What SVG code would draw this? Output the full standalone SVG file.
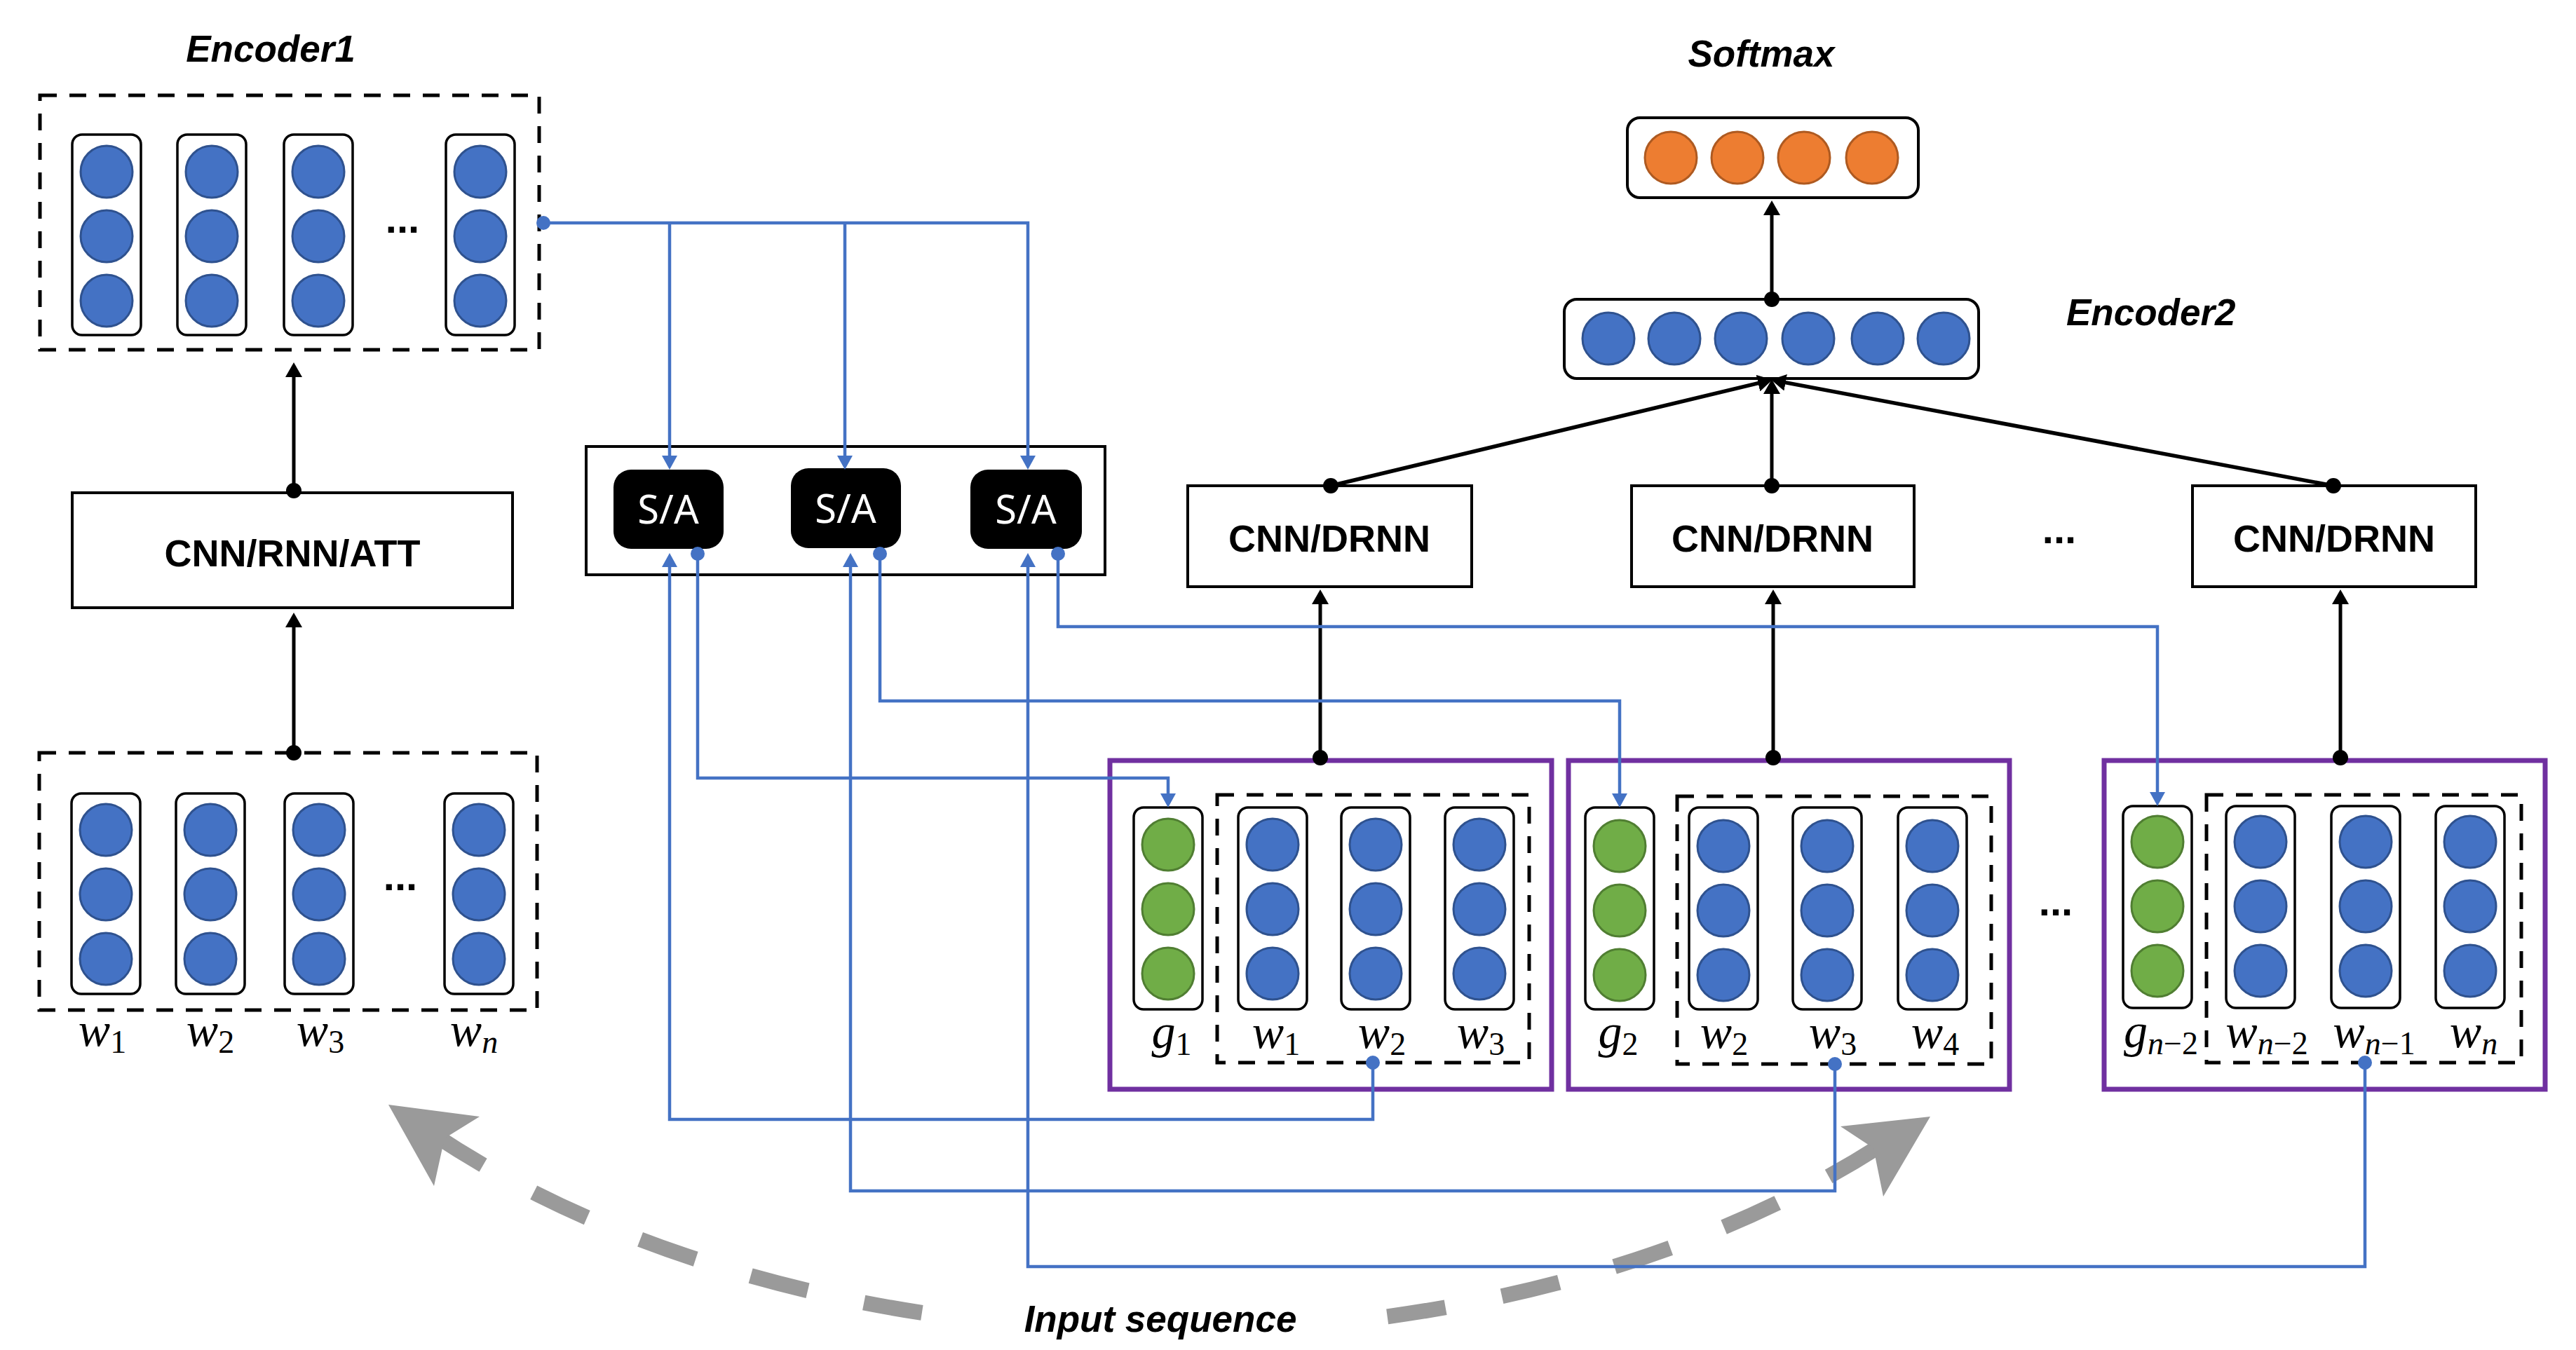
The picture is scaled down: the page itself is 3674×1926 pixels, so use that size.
<svg xmlns="http://www.w3.org/2000/svg" width="3674" height="1926" viewBox="0 0 3674 1926">
<defs>
<style>
.col{fill:#fff;stroke:#000;stroke-width:3.5}
.bc{fill:#4472C4;stroke:#2F528F;stroke-width:3}
.gc{fill:#70AD47;stroke:#507E32;stroke-width:3}
.oc{fill:#ED7D31;stroke:#AE5A21;stroke-width:3}
.dash{fill:none;stroke:#000;stroke-width:5;stroke-dasharray:24 18}
.box{fill:#fff;stroke:#000;stroke-width:4}
.purple{fill:#fff;stroke:#7030A0;stroke-width:7}
.title{font-family:"Liberation Sans",Arial,sans-serif;font-weight:bold;font-style:italic;font-size:53px;fill:#000}
.lbl{font-family:"Liberation Sans",Arial,sans-serif;font-weight:bold;font-size:54px;text-anchor:middle;fill:#000}
.sa{font-family:"Noto Sans","Liberation Sans",sans-serif;font-size:56px;text-anchor:middle;fill:#fff}
.math{font-family:"Liberation Serif","DejaVu Serif",serif;font-size:68px;text-anchor:middle;fill:#000}
.it{font-style:italic}
.sub{font-size:46px}
.dots{font-family:"Liberation Sans",Arial,sans-serif;font-weight:bold;font-size:58px;text-anchor:middle;fill:#000}
.blue{fill:none;stroke:#4472C4;stroke-width:4.5}
.blk{fill:none;stroke:#000;stroke-width:5}
.blk5{fill:none;stroke:#000;stroke-width:5.5}
.gray{fill:none;stroke:#9A9A9A;stroke-width:22}
</style>
<marker id="ak" markerUnits="userSpaceOnUse" markerWidth="24" markerHeight="24" refX="12" refY="12" orient="auto"><path d="M0,0 L21,12 L0,24 z" fill="#000"/></marker>
<marker id="ab" markerUnits="userSpaceOnUse" markerWidth="22" markerHeight="22" refX="12" refY="11" orient="auto"><path d="M0,0 L20,11 L0,22 z" fill="#4472C4"/></marker>
</defs>
<rect x="0" y="0" width="3674" height="1926" fill="#fff"/>

<g id="encoder1">
<text class="title" x="386" y="88" text-anchor="middle">Encoder1</text>
<rect class="dash" x="57" y="136" width="712" height="363"/>
<rect class="col" x="103" y="192" width="98" height="286" rx="14"/>
<rect class="col" x="253" y="192" width="98" height="286" rx="14"/>
<rect class="col" x="405" y="192" width="98" height="286" rx="14"/>
<rect class="col" x="636" y="192" width="98" height="286" rx="14"/>
<circle class="bc" cx="152" cy="245" r="37"/><circle class="bc" cx="152" cy="337" r="37"/><circle class="bc" cx="152" cy="429" r="37"/>
<circle class="bc" cx="302" cy="245" r="37"/><circle class="bc" cx="302" cy="337" r="37"/><circle class="bc" cx="302" cy="429" r="37"/>
<circle class="bc" cx="454" cy="245" r="37"/><circle class="bc" cx="454" cy="337" r="37"/><circle class="bc" cx="454" cy="429" r="37"/>
<circle class="bc" cx="685" cy="245" r="37"/><circle class="bc" cx="685" cy="337" r="37"/><circle class="bc" cx="685" cy="429" r="37"/>
<text class="dots" x="574" y="332">...</text>
</g>

<g id="cnn-rnn-att">
<rect class="box" x="103" y="703" width="628" height="164"/>
<text class="lbl" x="417" y="808">CNN/RNN/ATT</text>
</g>

<g id="input-words">
<rect class="dash" x="56" y="1074" width="710" height="367"/>
<rect class="col" x="102" y="1132" width="98" height="286" rx="14"/>
<rect class="col" x="251" y="1132" width="98" height="286" rx="14"/>
<rect class="col" x="406" y="1132" width="98" height="286" rx="14"/>
<rect class="col" x="634" y="1132" width="98" height="286" rx="14"/>
<circle class="bc" cx="151" cy="1184" r="37"/><circle class="bc" cx="151" cy="1276" r="37"/><circle class="bc" cx="151" cy="1368" r="37"/>
<circle class="bc" cx="300" cy="1184" r="37"/><circle class="bc" cx="300" cy="1276" r="37"/><circle class="bc" cx="300" cy="1368" r="37"/>
<circle class="bc" cx="455" cy="1184" r="37"/><circle class="bc" cx="455" cy="1276" r="37"/><circle class="bc" cx="455" cy="1368" r="37"/>
<circle class="bc" cx="683" cy="1184" r="37"/><circle class="bc" cx="683" cy="1276" r="37"/><circle class="bc" cx="683" cy="1368" r="37"/>
<text class="dots" x="571" y="1270">...</text>
<text class="math" x="146" y="1492"><tspan class="it">w</tspan><tspan class="sub" dy="10">1</tspan></text>
<text class="math" x="300" y="1492"><tspan class="it">w</tspan><tspan class="sub" dy="10">2</tspan></text>
<text class="math" x="457" y="1492"><tspan class="it">w</tspan><tspan class="sub" dy="10">3</tspan></text>
<text class="math" x="676" y="1492"><tspan class="it">w</tspan><tspan class="sub it" dy="10">n</tspan></text>
</g>

<g id="sa-block">
<rect class="box" x="836" y="637" width="740" height="183"/>
<rect x="875" y="670" width="157" height="113" rx="25" fill="#000"/>
<rect x="1128" y="668" width="157" height="114" rx="25" fill="#000"/>
<rect x="1384" y="670" width="159" height="113" rx="25" fill="#000"/>
<text class="sa" x="953" y="747">S/A</text>
<text class="sa" x="1206" y="746">S/A</text>
<text class="sa" x="1463" y="747">S/A</text>
</g>

<g id="cnn-drnn-1">
<rect class="box" x="1694" y="693" width="405" height="144"/>
<text class="lbl" x="1896" y="787">CNN/DRNN</text>
</g>
<g id="cnn-drnn-2">
<rect class="box" x="2327" y="693" width="403" height="144"/>
<text class="lbl" x="2528" y="787">CNN/DRNN</text>
</g>
<text class="dots" x="2937" y="775">...</text>
<g id="cnn-drnn-3">
<rect class="box" x="3127" y="693" width="404" height="144"/>
<text class="lbl" x="3329" y="787">CNN/DRNN</text>
</g>

<g id="encoder2">
<rect class="box" x="2231" y="427" width="591" height="113" rx="18"/>
<circle class="bc" cx="2294" cy="483" r="37"/><circle class="bc" cx="2388" cy="483" r="37"/><circle class="bc" cx="2483" cy="483" r="37"/>
<circle class="bc" cx="2579" cy="483" r="37"/><circle class="bc" cx="2678" cy="483" r="37"/><circle class="bc" cx="2772" cy="483" r="37"/>
<text class="title" x="2947" y="464">Encoder2</text>
</g>

<g id="softmax">
<text class="title" x="2512" y="95" text-anchor="middle">Softmax</text>
<rect class="box" x="2321" y="168" width="415" height="114" rx="18"/>
<circle class="oc" cx="2383" cy="225" r="37"/><circle class="oc" cx="2478" cy="225" r="37"/>
<circle class="oc" cx="2573" cy="225" r="37"/><circle class="oc" cx="2670" cy="225" r="37"/>
</g>

<g id="window-1">
<rect class="purple" x="1583" y="1085" width="630" height="469"/>
<rect class="dash" x="1736" y="1134" width="445" height="382"/>
<rect class="col" x="1617" y="1152" width="98" height="288" rx="14"/>
<rect class="col" x="1766" y="1152" width="98" height="288" rx="14"/>
<rect class="col" x="1913" y="1152" width="98" height="288" rx="14"/>
<rect class="col" x="2061" y="1152" width="98" height="288" rx="14"/>
<circle class="gc" cx="1666" cy="1205" r="37"/><circle class="gc" cx="1666" cy="1297" r="37"/><circle class="gc" cx="1666" cy="1389" r="37"/>
<circle class="bc" cx="1815" cy="1205" r="37"/><circle class="bc" cx="1815" cy="1297" r="37"/><circle class="bc" cx="1815" cy="1389" r="37"/>
<circle class="bc" cx="1962" cy="1205" r="37"/><circle class="bc" cx="1962" cy="1297" r="37"/><circle class="bc" cx="1962" cy="1389" r="37"/>
<circle class="bc" cx="2110" cy="1205" r="37"/><circle class="bc" cx="2110" cy="1297" r="37"/><circle class="bc" cx="2110" cy="1389" r="37"/>
<text class="math" x="1671" y="1495"><tspan class="it">g</tspan><tspan class="sub" dy="10">1</tspan></text>
<text class="math" x="1820" y="1495"><tspan class="it">w</tspan><tspan class="sub" dy="10">1</tspan></text>
<text class="math" x="1971" y="1495"><tspan class="it">w</tspan><tspan class="sub" dy="10">2</tspan></text>
<text class="math" x="2112" y="1495"><tspan class="it">w</tspan><tspan class="sub" dy="10">3</tspan></text>
</g>

<g id="window-2">
<rect class="purple" x="2237" y="1085" width="629" height="469"/>
<rect class="dash" x="2392" y="1136" width="448" height="382"/>
<rect class="col" x="2261" y="1152" width="98" height="288" rx="14"/>
<rect class="col" x="2409" y="1152" width="98" height="288" rx="14"/>
<rect class="col" x="2557" y="1152" width="98" height="288" rx="14"/>
<rect class="col" x="2707" y="1152" width="98" height="288" rx="14"/>
<circle class="gc" cx="2310" cy="1207" r="37"/><circle class="gc" cx="2310" cy="1299" r="37"/><circle class="gc" cx="2310" cy="1391" r="37"/>
<circle class="bc" cx="2458" cy="1207" r="37"/><circle class="bc" cx="2458" cy="1299" r="37"/><circle class="bc" cx="2458" cy="1391" r="37"/>
<circle class="bc" cx="2606" cy="1207" r="37"/><circle class="bc" cx="2606" cy="1299" r="37"/><circle class="bc" cx="2606" cy="1391" r="37"/>
<circle class="bc" cx="2756" cy="1207" r="37"/><circle class="bc" cx="2756" cy="1299" r="37"/><circle class="bc" cx="2756" cy="1391" r="37"/>
<text class="math" x="2308" y="1495"><tspan class="it">g</tspan><tspan class="sub" dy="10">2</tspan></text>
<text class="math" x="2459" y="1495"><tspan class="it">w</tspan><tspan class="sub" dy="10">2</tspan></text>
<text class="math" x="2614" y="1495"><tspan class="it">w</tspan><tspan class="sub" dy="10">3</tspan></text>
<text class="math" x="2760" y="1495"><tspan class="it">w</tspan><tspan class="sub" dy="10">4</tspan></text>
</g>

<text class="dots" x="2932" y="1306">...</text>

<g id="window-3">
<rect class="purple" x="3001" y="1085" width="629" height="469"/>
<rect class="dash" x="3147" y="1134" width="449" height="382"/>
<rect class="col" x="3028" y="1150" width="98" height="288" rx="14"/>
<rect class="col" x="3175" y="1150" width="98" height="288" rx="14"/>
<rect class="col" x="3325" y="1150" width="98" height="288" rx="14"/>
<rect class="col" x="3474" y="1150" width="98" height="288" rx="14"/>
<circle class="gc" cx="3077" cy="1201" r="37"/><circle class="gc" cx="3077" cy="1293" r="37"/><circle class="gc" cx="3077" cy="1385" r="37"/>
<circle class="bc" cx="3224" cy="1201" r="37"/><circle class="bc" cx="3224" cy="1293" r="37"/><circle class="bc" cx="3224" cy="1385" r="37"/>
<circle class="bc" cx="3374" cy="1201" r="37"/><circle class="bc" cx="3374" cy="1293" r="37"/><circle class="bc" cx="3374" cy="1385" r="37"/>
<circle class="bc" cx="3523" cy="1201" r="37"/><circle class="bc" cx="3523" cy="1293" r="37"/><circle class="bc" cx="3523" cy="1385" r="37"/>
<text class="math" x="3082" y="1494"><tspan class="it">g</tspan><tspan class="sub" dy="10"><tspan class="it">n</tspan>−2</tspan></text>
<text class="math" x="3233" y="1494"><tspan class="it">w</tspan><tspan class="sub" dy="10"><tspan class="it">n</tspan>−2</tspan></text>
<text class="math" x="3386" y="1494"><tspan class="it">w</tspan><tspan class="sub" dy="10"><tspan class="it">n</tspan>−1</tspan></text>
<text class="math" x="3528" y="1494"><tspan class="it">w</tspan><tspan class="sub it" dy="10">n</tspan></text>
</g>

<g id="input-sequence">
<path class="gray" d="M612,1614 C890,1801.5 1269.25,1897 1649.4,1899.6" stroke-dasharray="84 82" stroke-dashoffset="159"/>
<path class="gray" d="M2692,1628 C2410.5,1812 2029.5,1902.25 1649.4,1899.6" stroke-dasharray="84 82" stroke-dashoffset="152"/>
<polygon points="554,1576 684,1593 634,1624 619,1692" fill="#9A9A9A"/>
<polygon points="2753,1593 2686,1707 2672,1638 2625,1607" fill="#9A9A9A"/>
<rect x="1385" y="1835" width="545" height="91" fill="#fff"/>
<text class="title" x="1655" y="1900" text-anchor="middle" font-size="56">Input sequence</text>
</g>

<g id="connectors">
<g class="blk">
<path d="M419,700 V526" marker-end="url(#ak)"/>
<path d="M419,1074 V883" marker-end="url(#ak)"/>
<path d="M1883,1082 V850" marker-end="url(#ak)"/>
<path d="M2529,1082 V850" marker-end="url(#ak)"/>
<path d="M3338,1082 V850" marker-end="url(#ak)"/>
<path d="M2527,427 V295" marker-end="url(#ak)"/>
<path d="M2527,693 V550" marker-end="url(#ak)"/>
</g>
<g class="blk5">
<path d="M1898,693 L2519.2,543.9" marker-end="url(#ak)"/>
<path d="M3328,693 L2534.9,543.5" marker-end="url(#ak)"/>
</g>
<g fill="#000">
<circle cx="419" cy="700" r="11"/><circle cx="419" cy="1074" r="11"/>
<circle cx="1883" cy="1081" r="11"/><circle cx="2529" cy="1081" r="11"/><circle cx="3338" cy="1081" r="11"/>
<circle cx="2527" cy="427" r="11"/>
<circle cx="1898" cy="693" r="11"/><circle cx="2527" cy="693" r="11"/><circle cx="3328" cy="693" r="11"/>
</g>
<g class="blue">
<path d="M775,318 H1466 V662" marker-end="url(#ab)"/>
<path d="M955,318 V662" marker-end="url(#ab)"/>
<path d="M1205,318 V662" marker-end="url(#ab)"/>
<path d="M1958,1516 V1597 H955 V797" marker-end="url(#ab)"/>
<path d="M2617,1518 V1699 H1213 V797" marker-end="url(#ab)"/>
<path d="M3373,1516 V1807 H1466 V797" marker-end="url(#ab)"/>
<path d="M995,790 V1110 H1666 V1144" marker-end="url(#ab)"/>
<path d="M1255,790 V1000 H2310 V1144" marker-end="url(#ab)"/>
<path d="M1509,790 V894 H3077 V1142" marker-end="url(#ab)"/>
</g>
<g fill="#4472C4">
<circle cx="775" cy="318" r="10"/>
<circle cx="995" cy="790" r="10"/><circle cx="1255" cy="790" r="10"/><circle cx="1509" cy="790" r="10"/>
<circle cx="1958" cy="1516" r="10"/><circle cx="2617" cy="1518" r="10"/><circle cx="3373" cy="1516" r="10"/>
</g>
</g>
</svg>
